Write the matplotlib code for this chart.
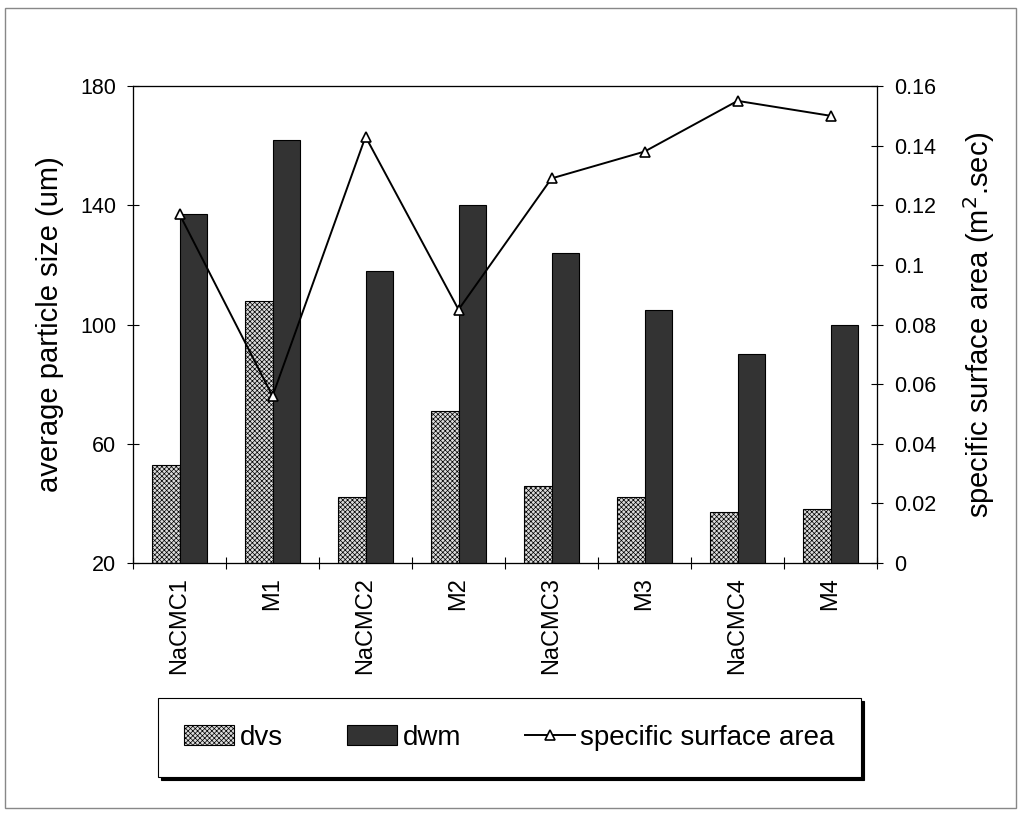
import numpy as np
import matplotlib
matplotlib.use("Agg")
import matplotlib.pyplot as plt
from matplotlib.patches import Rectangle

plt.rcParams['font.family'] = ['Liberation Sans', 'DejaVu Sans']
plt.rcParams['hatch.color'] = '#6a6a6a'
plt.rcParams['hatch.linewidth'] = 0.5

samples = ["NaCMC1", "M1", "NaCMC2", "M2", "NaCMC3", "M3", "NaCMC4", "M4"]
dvs = [53, 108, 42, 71, 46, 42, 37, 38]
dwm = [137, 162, 118, 140, 124, 105, 90, 100]
ssa = [0.117, 0.056, 0.143, 0.085, 0.129, 0.138, 0.155, 0.150]

fig = plt.figure(figsize=(10.21, 8.18), dpi=100)
fig.patches.append(Rectangle((0.005, 0.012), 0.99, 0.978, transform=fig.transFigure,
                             fill=False, edgecolor='#888888', linewidth=1.0))
ax = fig.add_axes([0.1303, 0.3117, 0.7287, 0.5832])

x = np.arange(len(samples))
w = 0.3
ax.bar(x - w / 2, np.array(dvs) - 20, w, bottom=20, facecolor='#dcdcdc',
       edgecolor='black', linewidth=0.8, hatch='xxxxxxx', label='dvs')
ax.bar(x + w / 2, np.array(dwm) - 20, w, bottom=20, facecolor='#333333',
       edgecolor='black', linewidth=0.8, label='dwm')
ax.set_xlim(-0.5, len(samples) - 0.5)
ax.set_ylim(20, 180)
ax.set_yticks([20, 60, 100, 140, 180])
ax.set_xticks(x)
ax.set_xticklabels(samples, rotation=90, fontsize=17)
ax.set_xticks(np.arange(len(samples) + 1) - 0.5, minor=True)
ax.tick_params(axis='x', which='major', length=0, pad=10)
ax.tick_params(axis='x', which='minor', length=8, direction='inout', width=0.8)
ax.tick_params(axis='y', labelsize=15.5, length=8, direction='inout', width=0.8, pad=8)
ax.set_ylabel("average particle size (um)", fontsize=21, labelpad=12)
for s in ax.spines.values():
    s.set_linewidth(0.9)
    s.set_color('#333333')

ax2 = ax.twinx()
ax2.plot(x, ssa, color='black', linewidth=1.4, marker='^', markersize=7,
         markerfacecolor='white', markeredgecolor='black', markeredgewidth=1.2,
         label='specific surface area')
ax2.set_ylim(0, 0.16)
ax2.set_yticks([0, 0.02, 0.04, 0.06, 0.08, 0.1, 0.12, 0.14, 0.16])
ax2.set_yticklabels(["0", "0.02", "0.04", "0.06", "0.08", "0.1", "0.12", "0.14", "0.16"])
ax2.tick_params(axis='y', labelsize=15.5, length=8, direction='inout', width=0.8, pad=8)
ax2.set_ylabel("specific surface area (m$^2$.sec)", fontsize=21, labelpad=18)

h1, l1 = ax.get_legend_handles_labels()
h2, l2 = ax2.get_legend_handles_labels()
leg = fig.legend(h1 + h2, l1 + l2, loc='center', ncol=3,
                 bbox_to_anchor=(0.499, 0.0984),
                 fancybox=False, shadow={'color': 'black', 'alpha': 1.0},
                 fontsize=20, frameon=True, edgecolor='black',
                 handlelength=1.8, handleheight=0.7, handletextpad=0.2,
                 columnspacing=2.3, borderaxespad=0, borderpad=0.95)
leg.get_frame().set_linewidth(0.8)

fig.savefig("out.png", dpi=100)
